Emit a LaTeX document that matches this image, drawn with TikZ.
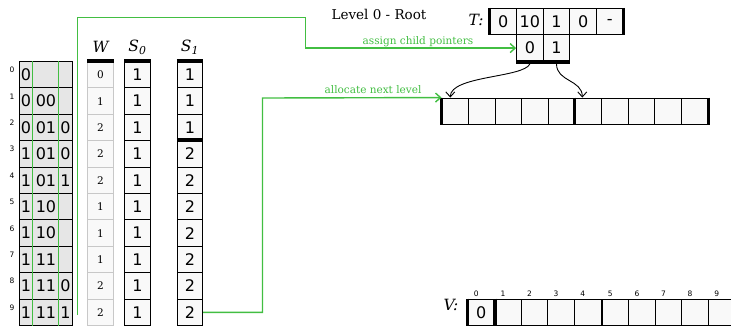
\documentclass[tikz,border=0pt]{standalone}
\usepackage{fontspec}
\setmainfont{DejaVu Serif}
\setsansfont{DejaVu Sans}
\usetikzlibrary{positioning, arrows.meta}

\definecolor{keygray}{RGB}{230,230,230}
\definecolor{cellfill}{RGB}{249,249,249}
\definecolor{wline}{RGB}{200,200,200}
\definecolor{flowgreen}{RGB}{66,190,66}

\newcommand{\bigdigits}{\fontsize{16}{16}\selectfont\sffamily}
\newcommand{\smalldigits}{\fontsize{10.5}{11}\selectfont}
\newcommand{\idxfont}{\fontsize{7.5}{7.5}\selectfont\sffamily}

\tikzset{
  cell/.style={rectangle, draw, line width=0.9pt, fill=cellfill, minimum width=26.6pt, minimum height=26.6pt, inner sep=0pt, font=\bigdigits},
  colcell/.style={cell, minimum width=25.5pt, minimum height=26.4pt},
  wcell/.style={colcell, draw=wline, font=\smalldigits},
  keyrow/.style={rectangle, draw, line width=0.9pt, fill=keygray, minimum width=53pt, minimum height=26.4pt, inner sep=0pt},
  bar/.style={line width=4pt},
  barb/.style={-{Straight Barb[length=5pt, width=9pt]}},
  flow/.style={barb, draw=flowgreen, line width=1.4pt},
  flowlabel/.style={flowgreen, font=\fontsize{10.5}{11}\selectfont},
  head/.style={font=\fontsize{15.5}{15.5}\selectfont\itshape},
}

\begin{document}
\begin{tikzpicture}[x=1pt, y=-1pt]
\useasboundingbox (0,0) rectangle (731,325);

%Keys
\foreach \i/\a/\b/\c in {0/0/{}/{}, 1/0/00/{}, 2/0/01/0, 3/1/01/0, 4/1/01/1, 5/1/10/{}, 6/1/10/{}, 7/1/11/{}, 8/1/11/0, 9/1/11/1} {
  \node[keyrow] (key\i) at (45.5, 74.7+26.4*\i) {};
  \node[font=\bigdigits] at (26, 74.7+26.4*\i) {\a};
  \node[font=\bigdigits] at (46, 74.7+26.4*\i) {\b};
  \node[font=\bigdigits] at (65.5, 74.7+26.4*\i) {\c};
  \node[font=\idxfont] at (12, 70+26.4*\i) {\i};
}
\draw[flowgreen, line width=1.2pt] ([xshift=14pt]key0.north west) -- ([xshift=14pt]key9.south west);
\draw[flowgreen, line width=1.2pt] ([xshift=40pt]key0.north west) -- ([xshift=40pt]key9.south west);

%W
\node[head] (whead) at (100.5,47) {W};
\foreach \i/\w in {0/0, 1/1, 2/2, 3/2, 4/2, 5/1, 6/1, 7/1, 8/2, 9/2}
  \node[wcell] (w\i) at (100.5, 74.7+26.4*\i) {\w};
\draw[bar] (w0.north west) -- (w0.north east);

%S_0
\node[head] (sahead) at (137.5,47) {S\textsubscript{0}};
\foreach \i in {0,...,9}
  \node[colcell] (sa\i) at (137.5, 74.7+26.4*\i) {1};
\draw[bar] (sa0.north west) -- (sa0.north east);

%S_1
\node[head] (sbhead) at (190,47) {S\textsubscript{1}};
\foreach \i/\s in {0/1, 1/1, 2/1, 3/2, 4/2, 5/2, 6/2, 7/2, 8/2, 9/2}
  \node[colcell] (sb\i) at (190, 74.7+26.4*\i) {\s};
\draw[bar] (sb0.north west) -- (sb0.north east);
\draw[bar] (sb3.north west) -- (sb3.north east);

%Level 0
\node[font=\fontsize{13.5}{13.5}\selectfont] (level) at (379,14) {Level 0 - Root};

%T
\node[head] (tlabel) at (476,20) {T:};
\foreach \i/\t in {0/0, 1/10, 2/1, 3/0, 4/-}
  \node[cell] (t\i) at (503.3+26.6*\i, 21.5) {\t};
\node[cell] (child0) at (529.9, 48.1) {0};
\node[cell] (child1) at (556.5, 48.1) {1};
\draw[bar, line width=3pt] (t0.north west) -- (t0.south west);
\draw[bar, line width=3pt] (t4.north east) -- (t4.south east);
\draw[bar] (child0.south west) -- (child1.south east);

%Next level
\foreach \i in {0,...,9}
  \node[cell] (next\i) at (455.3+26.6*\i, 111.3) {};
\draw[bar, line width=3pt] (next0.north west) -- (next0.south west);
\draw[bar, line width=3pt] (next5.north west) -- (next5.south west);
\draw[bar, line width=3pt] (next9.north east) -- (next9.south east);

%Children
\draw[barb, line width=0.9pt] ([yshift=-2pt]child0.south) .. controls +(-6,14) and +(0,-22) .. ([xshift=-5pt]next0.north);
\draw[barb, line width=0.9pt] ([yshift=-2pt]child1.south) .. controls +(0,18) and +(0,-18) .. ([xshift=-6pt]next5.north);

%V
\node[head] (vlabel) at (451,305) {V:};
\foreach \i in {0,...,4}
  \node[cell] (v\i) at (481.3+26.6*\i, 312.3) {};
\foreach \i in {5,...,9}
  \node[cell] (v\i) at (615.3+26.6*\i-133, 312.3) {};
\node[font=\bigdigits] at (v0) {0};
\foreach \i in {0,...,9}
  \node[font=\idxfont] at ([xshift=-5pt, yshift=5pt]v\i.north) {\i};
\draw[bar, line width=3pt] (v0.north west) -- (v0.south west);
\draw[bar] (v0.north east) -- (v0.south east);

%Flow
\coordinate (keystop) at (77.5,315);
\coordinate (bend) at (305.5,17.5);
\draw[flow] (keystop) |- (bend) |- (child0.west);
\node[flowlabel] (assign) at (418,42) {assign child pointers};
\draw[flow] (sb9.east) -| (262.5,98) -- (next0.north west);
\node[flowlabel] (allocate) at (373,90) {allocate next level};

\end{tikzpicture}
\end{document}
